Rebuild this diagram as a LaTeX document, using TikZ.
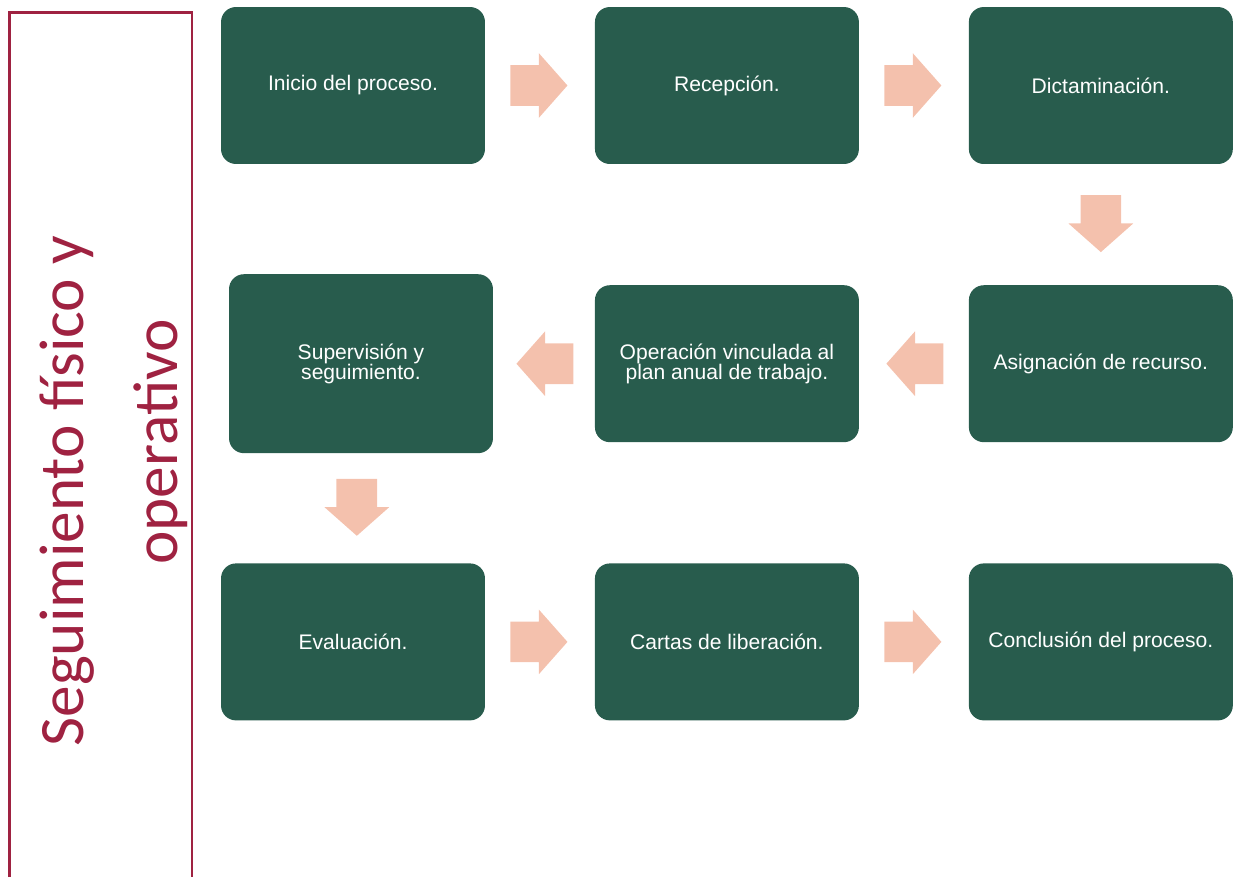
\documentclass[tikz,border=0pt]{standalone}
\usepackage{fontspec}
\setmainfont{Liberation Sans}
\newfontfamily\carlito{Carlito}
\usepackage{tikz}
\usetikzlibrary{positioning,shapes.arrows}

\definecolor{verde}{HTML}{285C4D}
\definecolor{salmon}{HTML}{F4C1AD}
\definecolor{guinda}{HTML}{9F2241}

\begin{document}
\begin{tikzpicture}[x=0.02cm,y=-0.02cm,node distance=5.565cm and 7.48cm,on grid,
    paso/.style={rectangle,rounded corners=8.5pt,fill=verde,text=white,
      minimum width=5.28cm,minimum height=3.14cm,align=center,
      font=\fontsize{12}{11.5}\selectfont},
    flecha/.style={single arrow,fill=salmon,draw=none,
      inner xsep=0pt,inner ysep=0.4cm,
      minimum height=1.14cm,minimum width=1.28cm,
      single arrow head extend=0.24cm,single arrow tip angle=97,
      rotate=#1,xshift=-0.2cm},
    flecha/.default=0,
    titulo/.style={rotate=90,anchor=base,text=guinda,inner sep=0pt,
      font=\carlito\fontsize{36}{36}\selectfont}]
   \useasboundingbox (0,0) rectangle (1235,877);
   % marco lateral
   \draw[guinda,line width=1.4pt] (9.5,877) |- (192,12.5) -- (192,877);
   \node[titulo] (titulo1) at (83,491) {Seguimiento físico y};
   \node[titulo] (titulo2) at (177,442) {operativo};
   % pasos
   \node[paso] (inicio) at (353,85.5) {Inicio del proceso.};
   \node[paso] (recepcion) [right=of inicio] {Recepción.};
   \node[paso] (dictamen) [right=of recepcion] {Dictaminación.};
   \node[paso] (asignacion) [below=of dictamen] {Asignación de recurso.};
   \node[paso] (operacion) [left=of asignacion] {Operación vinculada al\\plan anual de trabajo.};
   \node[paso,minimum height=3.58cm] (supervision) [left=7.32cm of operacion] {Supervisión y\\seguimiento.};
   \node[paso] (evaluacion) [below=of supervision,xshift=-0.16cm] {Evaluación.};
   \node[paso] (cartas) [right=of evaluacion] {Cartas de liberación.};
   \node[paso] (conclusion) [right=of cartas] {Conclusión del proceso.};
   % flechas
   \path
    (inicio) -- node[flecha] {} (recepcion)
    (recepcion) -- node[flecha] {} (dictamen)
    (dictamen) -- node[flecha=270] {} (asignacion)
    (asignacion) -- node[flecha=180] {} (operacion)
    (operacion) -- node[flecha=180] {} (supervision)
    (supervision) -- node[flecha=270] {} (evaluacion)
    (evaluacion) -- node[flecha] {} (cartas)
    (cartas) -- node[flecha] {} (conclusion);
\end{tikzpicture}
\end{document}
